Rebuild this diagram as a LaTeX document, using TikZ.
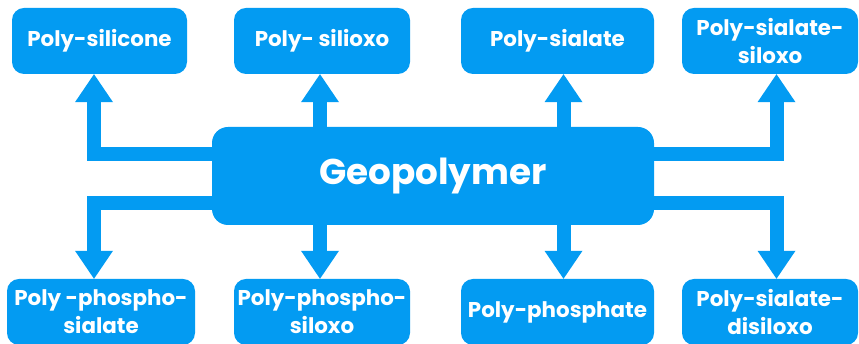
\documentclass[tikz,border=0pt]{standalone}
\usepackage{fontspec}
\setmainfont{Poppins}
\usepackage{tikz}
\usetikzlibrary{arrows.meta}
\definecolor{geoblue}{RGB}{3,155,242}

\begin{document}
\begin{tikzpicture}[x=1pt, y=1pt,
    box/.style={fill=geoblue, text=white, rounded corners=12pt, align=center,
        font=\fontsize{21.4}{28}\selectfont\bfseries, minimum height=66pt, inner sep=0pt},
    link/.style={draw=geoblue, line width=14pt,
        -{Triangle[width=38pt, length=28pt, line width=0pt]}}]

\useasboundingbox (0,0) rectangle (859,344);

% Central box
\node[box, minimum width=442pt, minimum height=98pt, rounded corners=16pt,
    font=\fontsize{35.8}{42}\selectfont\bfseries] (geo) at (433,168) {Geopolymer};

% Top row
\node[box, minimum width=175pt] (silicone) at (99.5,303) {Poly-silicone};
\node[box, minimum width=176pt] (silioxo) at (322,303) {Poly- silioxo};
\node[box, minimum width=193pt] (sialate) at (557.5,303) {Poly-sialate};
\node[box, minimum width=176pt] (siloxo) at (770,303) {Poly-sialate-\\siloxo};

% Bottom row
\node[box, minimum width=188pt] (phsialate) at (101,32) {Poly -phospho-\\sialate};
\node[box, minimum width=176pt] (phsiloxo) at (322,32) {Poly-phospho-\\siloxo};
\node[box, minimum width=193pt] (phosphate) at (557.5,32) {Poly-phosphate};
\node[box, minimum width=176pt] (disiloxo) at (770,32) {Poly-sialate-\\disiloxo};

% Left branches
\draw[link] ([xshift=4pt, yshift=22pt]geo.west) -| ([xshift=-5.5pt]silicone.south);
\draw[link] ([xshift=4pt, yshift=-27pt]geo.west) -| ([xshift=-7pt]phsialate.north);

% Straight up and down
\draw[link] ([xshift=-2pt]silioxo.south |- geo.north) -- ([xshift=-2pt]silioxo.south);
\draw[link] ([xshift=6pt]sialate.south |- geo.north) -- ([xshift=6pt]sialate.south);
\draw[link] ([xshift=-2pt]phsiloxo.north |- geo.south) -- ([xshift=-2pt]phsiloxo.north);
\draw[link] ([xshift=6pt]phosphate.north |- geo.south) -- ([xshift=6pt]phosphate.north);

% Right branches
\draw[link] ([xshift=-4pt, yshift=22pt]geo.east) -| ([xshift=6.5pt]siloxo.south);
\draw[link] ([xshift=-4pt, yshift=-27pt]geo.east) -| ([xshift=6.5pt]disiloxo.north);

\end{tikzpicture}
\end{document}
